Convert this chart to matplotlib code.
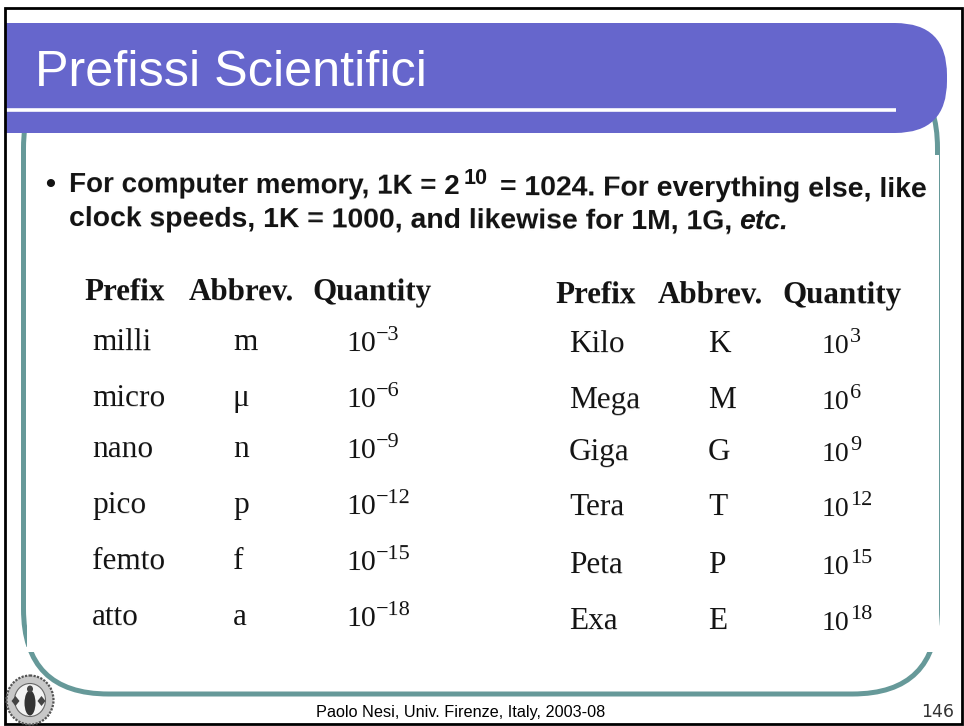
import matplotlib
matplotlib.use("Agg")
import matplotlib.pyplot as plt
from matplotlib.patches import FancyBboxPatch, Rectangle, Ellipse, Polygon

plt.rcParams["font.family"] = ["Liberation Sans", "DejaVu Sans"]

BAND = "#6666CC"
TEAL = "#669999"
INK = "#111111"
SERIF = ["Liberation Serif", "DejaVu Serif"]
TILT = -0.3

title = "Prefissi Scientifici"
footer = "Paolo Nesi, Univ. Firenze, Italy, 2003-08"
page = "146"
headers = ["Prefix", "Abbrev.", "Quantity"]

small_names = ["milli", "micro", "nano", "pico", "femto", "atto"]
small_abbr = ["m", "\u03bc", "n", "p", "f", "a"]
small_exp = ["\u22123", "\u22126", "\u22129", "\u221212", "\u221215", "\u221218"]

big_names = ["Kilo", "Mega", "Giga", "Tera", "Peta", "Exa"]
big_abbr = ["K", "M", "G", "T", "P", "E"]
big_exp = ["3", "6", "9", "12", "15", "18"]

# row centres in pixels
small_rows = [340, 396, 447, 503, 559, 615]
big_rows = [342, 398, 450, 505, 563, 619]

fig = plt.figure(figsize=(9.64, 7.26), dpi=100)
ax = fig.add_axes([0, 0, 1, 1])
ax.set_xlim(0, 964)
ax.set_ylim(726, 0)
ax.axis("off")

# teal frame, then the pasted white picture on top of it
ax.add_patch(FancyBboxPatch((23.5, 63), 914, 631, boxstyle="round,pad=0,rounding_size=85",
                            fc="white", ec=TEAL, lw=3.6, zorder=1))
ax.add_patch(Rectangle((27, 155), 912, 497, fc="white", ec="none", zorder=2))
ax.add_patch(Rectangle((27, 627), 920, 25, fc="white", ec="none", zorder=2))
ax.add_patch(Rectangle((15, 647), 20, 5, fc="white", ec="none", zorder=2))

# title band
ax.add_patch(FancyBboxPatch((-100, 23), 1047, 110, boxstyle="round,pad=0,rounding_size=52",
                            fc=BAND, ec="none", zorder=3))
ax.plot([5, 896], [110, 110], color="white", lw=2.6, solid_capstyle="butt", zorder=4)
ax.text(35, 86, title, color="white", fontsize=36.3, va="baseline", ha="left", zorder=5)

# slide border
ax.add_patch(Rectangle((0, 0), 5, 726, fc="white", ec="none", zorder=5))
ax.add_patch(Rectangle((5, 8), 957, 716, fc="none", ec="black", lw=2, zorder=6))


def tilted(x, y, s, **kw):
    ax.text(x, y, s, rotation=TILT, rotation_mode="anchor", va="baseline", color=INK, zorder=5, **kw)


# bullet text
body = dict(fontsize=20.4, fontweight="bold")
tilted(50, 192, "\u2022", ha="center", **body)
tilted(69, 192, "For computer memory, 1K = 2", fontsize=20, fontweight="bold")
tilted(464, 184, "10", fontsize=15.5, fontweight="bold")
tilted(500, 195, "= 1024. For everything else, like", **body)
tilted(69, 226, "clock speeds, 1K = 1000, and likewise for 1M, 1G,", **body)
tilted(739, 229, "etc.", fontsize=20.4, fontweight="bold", style="italic")

# left table
for x, h in zip([84, 189, 313], headers):
    tilted(x, 300, h, family=SERIF, fontsize=22.3, fontweight="bold")
for y, n, a, e in zip(small_rows, small_names, small_abbr, small_exp):
    tilted(92, y + 10, n, family=SERIF, fontsize=22.5)
    tilted(233, y + 10, a, family=SERIF, fontsize=22.5)
    tilted(346, y + 11, "10", family=SERIF, fontsize=21.5)
    tilted(376, y, e, family=SERIF, fontsize=16)

# right table
for x, h in zip([555, 658, 783], headers):
    tilted(x, 303, h, family=SERIF, fontsize=22.3, fontweight="bold")
for y, n, a, e in zip(big_rows, big_names, big_abbr, big_exp):
    tilted(569, y + 10, n, family=SERIF, fontsize=22.5)
    tilted(708, y + 10, a, family=SERIF, fontsize=22.5)
    tilted(822, y + 11, "10", family=SERIF, fontsize=20)
    tilted(850, y, e, family=SERIF, fontsize=16)

# footer
ax.text(461, 713, footer, fontsize=11.7, ha="center", va="center", color="black", zorder=5)
ax.text(938, 712, page, fontsize=12.5, family=["DejaVu Sans"], ha="center", va="center", color="#333333", zorder=5)

# university seal
ax.add_patch(Ellipse((30, 700), 47, 49, fc="#c8c8c8", ec="#555555", lw=1.6, ls=(0, (1, 0.6)), zorder=7))
ax.add_patch(Ellipse((30, 700), 31, 33, fc="#f2f2f2", ec="#666666", lw=0.8, zorder=7))
ax.add_patch(Ellipse((30, 703), 11, 25, fc="#333333", ec="none", zorder=8))
ax.add_patch(Ellipse((30, 689), 6, 7, fc="#444444", ec="none", zorder=8))
for cx in [15.5, 41.5]:
    ax.add_patch(Polygon([(cx - 4, 701), (cx, 696), (cx + 4, 701), (cx, 706)], fc="#444444", ec="none", zorder=8))

fig.savefig("out.png", dpi=100)
